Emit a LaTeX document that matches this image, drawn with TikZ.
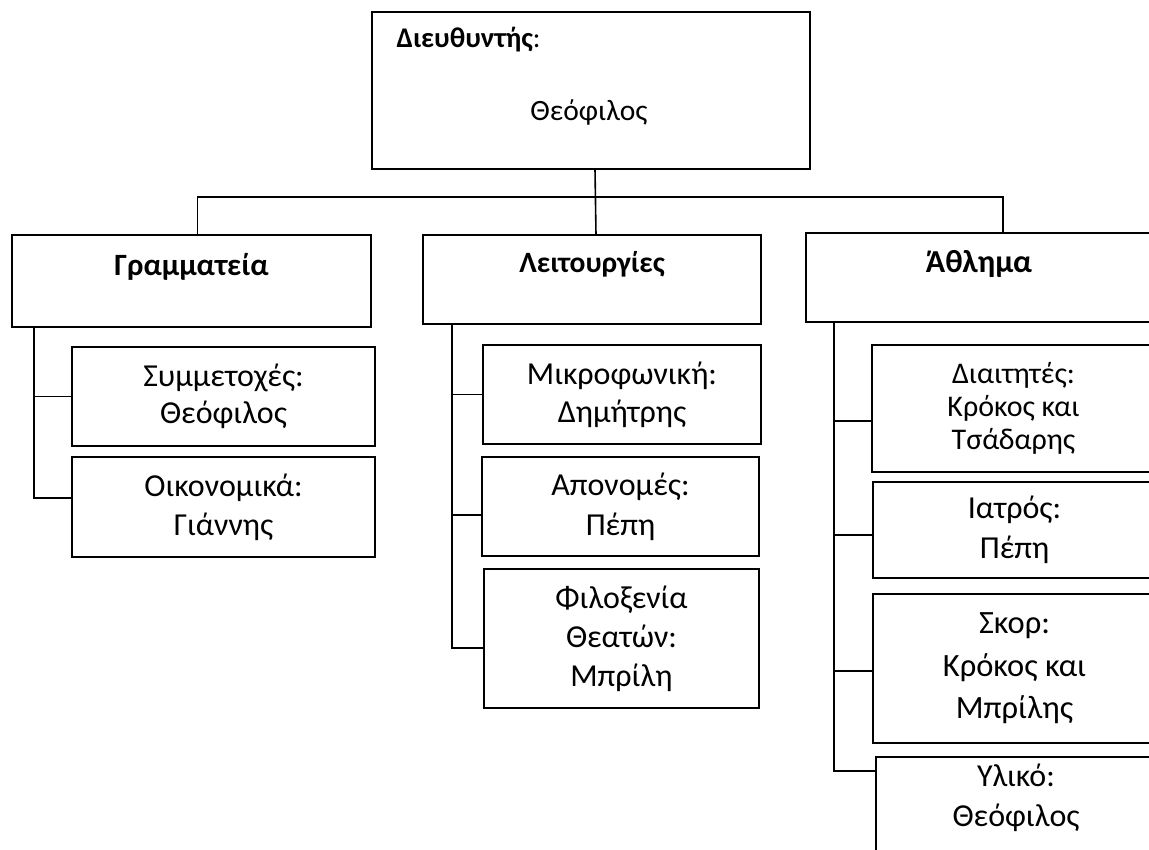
\documentclass[tikz,border=0pt]{standalone}
\usepackage{fontspec}
\setmainfont{Carlito}
\usetikzlibrary{positioning, calc}
\newcommand{\fsz}[2]{\fontsize{#1}{#2}\selectfont}
\tikzset{
  unit/.style={draw,line width=1.6pt,outer sep=0pt,inner sep=0pt,anchor=north west},
  member/.style={unit,align=center},
  headtxt/.style={font=\bfseries\fsz{30}{36},anchor=base},
  link/.style={line width=1.6pt},
}

\begin{document}
\begin{tikzpicture}[x=1pt,y=-1pt]
	    \clip (0,0) rectangle (1149,850);
	    % director
	    \node[unit,minimum width=438pt,minimum height=157pt] (dir) at (372,12) {};
	    \node[font=\bfseries\fsz{28.5}{34},anchor=base west] (dirtitle) at ([xshift=21pt,yshift=-36pt]dir.north west) {Διευθυντής{\mdseries:}};
	    \node[font=\fsz{29.5}{35},anchor=base] (dirname) at ([xshift=-2pt,yshift=-109pt]dir.north) {Θεόφιλος};
	    % departments
	    \node[unit,minimum width=359pt,minimum height=92pt] (gram) at (12,235) {};
	    \node[headtxt,font=\bfseries\fsz{31}{36}] (gramtxt) at ([yshift=-41pt]gram.north) {Γραμματεία};
	    \node[unit,minimum width=338pt,minimum height=89pt] (leit) at (423,235) {};
	    \node[headtxt,font=\bfseries\fsz{29.5}{35}] (leittxt) at ([yshift=-38pt]leit.north) {Λειτουργίες};
	    \node[unit,minimum width=346pt,minimum height=89pt] (athl) at (806,233) {};
	    \node[headtxt,font=\bfseries\fsz{32}{38}] (athltxt) at ([yshift=-40pt]athl.north) {Άθλημα};
	    % members
	    \node[member,minimum width=303pt,minimum height=99pt,font=\fsz{32}{37}] (sym) at (72,347) {Συμμετοχές:\\Θεόφιλος};
	    \node[member,minimum width=303pt,minimum height=100pt,font=\fsz{32}{39}] (oik) at (72,457) {Οικονομικά:\\Γιάννης};
	    \node[member,minimum width=278pt,minimum height=99pt,font=\fsz{32}{38}] (mik) at (483,345) {Μικροφωνική:\\Δημήτρης};
	    \node[member,minimum width=277pt,minimum height=99pt,font=\fsz{32}{40}] (apo) at (482,457) {Απονομές:\\Πέπη};
	    \node[member,minimum width=275pt,minimum height=139pt,font=\fsz{32}{39}] (fil) at (484,569) {Φιλοξενία\\Θεατών:\\Μπρίλη};
	    \node[member,minimum width=283pt,minimum height=127pt,font=\fsz{30}{33}] (diai) at (872,345) {Διαιτητές:\\Κρόκος και\\Τσάδαρης};
	    \node[member,minimum width=283pt,minimum height=96pt,font=\fsz{32}{40}] (iatr) at (873,482) {Ιατρός:\\Πέπη};
	    \node[member,minimum width=283pt,minimum height=149pt,font=\fsz{32.5}{42.5}] (skor) at (873,594) {Σκορ:\\Κρόκος και\\Μπρίλης};
	    \node[unit,minimum width=280pt,minimum height=120pt] (ylik) at (876,757) {};
	    \node[font=\fsz{32}{40},align=center,anchor=north] (yliktxt) at ([yshift=-3pt]ylik.north) {Υλικό:\\Θεόφιλος};
	    % connectors
	    \coordinate (bus) at (595,197);
	    \draw[link] ([xshift=4pt]dir.south) -- ([xshift=4pt]leit.north);
	    \draw[link] ([xshift=6pt]gram.north) |- (bus) -| ([xshift=24pt]athl.north);
	    \coordinate (gstem) at ([xshift=22pt]gram.south west);
	    \draw[link] (gstem) |- ([yshift=9pt]oik.west);
	    \draw[link] (sym.west) -- (sym.west -| gstem);
	    \coordinate (lstem) at ([xshift=29pt]leit.south west);
	    \draw[link] (lstem) |- ([yshift=-9.5pt]fil.west);
	    \draw[link] (mik.west) -- (mik.west -| lstem);
	    \draw[link] ([yshift=-8.5pt]apo.west) -- ([yshift=-8.5pt]apo.west -| lstem);
	    \coordinate (astem) at ([xshift=28pt]athl.south west);
	    \draw[link] (astem) |- ([yshift=-14pt]ylik.north west);
	    \draw[link] ([yshift=-12.5pt]diai.west) -- ([yshift=-12.5pt]diai.west -| astem);
	    \draw[link] ([yshift=-5pt]iatr.west) -- ([yshift=-5pt]iatr.west -| astem);
	    \draw[link] ([yshift=-2.5pt]skor.west) -- ([yshift=-2.5pt]skor.west -| astem);
	\end{tikzpicture}
\end{document}
